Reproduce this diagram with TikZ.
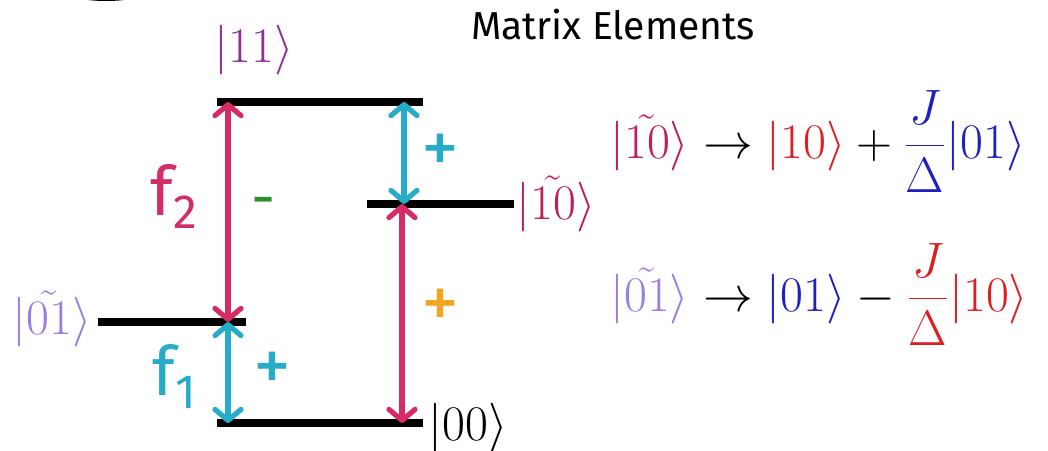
\documentclass[tikz,border=0pt]{standalone}
\usepackage{fontspec}
\newfontfamily\plex{Fira Sans}
\usetikzlibrary{arrows.meta}
\definecolor{cpink}{RGB}{214,44,102}
\definecolor{ccyan}{RGB}{38,172,200}
\definecolor{cpurple}{RGB}{145,45,150}
\definecolor{ccrimson}{RGB}{190,30,90}
\definecolor{clav}{RGB}{155,125,225}
\definecolor{cred}{RGB}{222,30,35}
\definecolor{cblue}{RGB}{30,30,195}
\definecolor{corange}{RGB}{242,165,30}
\definecolor{cgreen}{RGB}{40,145,40}
\begin{document}
\begin{tikzpicture}[x=0.5pt,y=-0.5pt,
 level/.style={line width=4pt},
 trans/.style={line width=2.6pt,
   {Straight Barb[length=5.5pt,width=13pt,round]}-{Straight Barb[length=5.5pt,width=13pt,round]}},
 ket/.style={font=\fontsize{23.5}{28}\selectfont, inner sep=0pt, anchor=base},
 eqn/.style={font=\fontsize{25.8}{31}\selectfont, inner sep=0pt, anchor=base west},
 sgn/.style={font=\plex\fontsize{38}{42}\selectfont, inner sep=0pt},
 flab/.style={inner sep=0pt, anchor=base}]
\useasboundingbox (0,0) rectangle (1048,450);
\begin{scope}
\clip (0,0) rectangle (1048,450);
\fill (106,-24) ellipse [x radius=32pt, y radius=12.5pt];
\end{scope}
% levels
\coordinate (T1) at (217,102); \coordinate (T2) at (423,102);
\coordinate (M1) at (367,204); \coordinate (M2) at (514,204);
\coordinate (L1) at (98,322);  \coordinate (L2) at (246,322);
\coordinate (B1) at (217,423); \coordinate (B2) at (423,423);
\draw[level] (T1) -- (T2);
\draw[level] (M1) -- (M2);
\draw[level] (L1) -- (L2);
\draw[level] (B1) -- (B2);
% arrow end points
\coordinate (a1t) at (228,102); \coordinate (a1b) at (228,322);
\coordinate (a2t) at (228,322); \coordinate (a2b) at (228,423);
\coordinate (a3t) at (404,102); \coordinate (a3b) at (404,204);
\coordinate (a4t) at (402,204); \coordinate (a4b) at (402,423);
\draw[trans, cpink] (a1t) -- (a1b);
\draw[trans, ccyan] (a2t) -- (a2b);
\draw[trans, ccyan] (a3t) -- (a3b);
\draw[trans, cpink] (a4t) -- (a4b);
% kets
\node[ket, text=cpurple] (k11) at (254,62) {$|11\rangle$};
\node[ket, text=ccrimson] (k10t) at (556,219) {$|\tilde{10}\rangle$};
\node[ket, text=clav] (k01t) at (52,334) {$|\tilde{01}\rangle$};
\node[ket] (k00) at (468,440) {$|00\rangle$};
% title
\node[font=\plex\fontsize{19.5}{23}\selectfont, inner sep=0pt, anchor=base] (title) at (613,39) {Matrix Elements};
% f labels
\node[flab, text=cpink] (f2) at (174,215) {\plex\fontsize{34}{40}\selectfont f\raisebox{-6.5pt}{\fontsize{24}{28}\selectfont 2}};
\node[flab, text=ccyan] (f1) at (174,395) {\plex\fontsize{34}{40}\selectfont f\raisebox{-6.5pt}{\fontsize{24}{28}\selectfont 1}};
% signs
\node[sgn, text=cgreen, font=\plex\fontsize{30}{34}\selectfont] (sm) at (264,208) {-};
\node[sgn, text=ccyan] (sp1) at (440,154) {+};
\node[sgn, text=corange] (sp2) at (440,309) {+};
\node[sgn, text=ccyan] (sp3) at (272,372) {+};
% equations
\node[eqn] (eq1) at (610,158) {$\displaystyle \textcolor{ccrimson}{|\tilde{10}\rangle} \to \textcolor{cred}{|10\rangle} + \textcolor{cblue}{\frac{J}{\Delta}|01\rangle}$};
\node[eqn] (eq2) at (610,311) {$\displaystyle \textcolor{clav}{|\tilde{01}\rangle} \to \textcolor{cblue}{|01\rangle} - \textcolor{cred}{\frac{J}{\Delta}|10\rangle}$};
\end{tikzpicture}
\end{document}
